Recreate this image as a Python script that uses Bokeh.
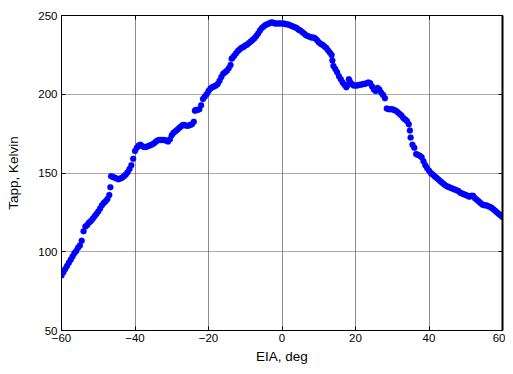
from bokeh.plotting import figure
from bokeh.models import LinearAxis, Range1d, SingleIntervalTicker, ColumnDataSource, CustomJSTickFormatter
from bokeh.embed import file_html
from bokeh.resources import INLINE

# EIA angle (deg) and apparent temperature (K)
eia = [-60, -59.5, -59, -58.5, -58, -57.5, -57, -56.5, -56, -55.5, -55, -54.5, -54, -53.5, -53,
       -52.5, -52, -51.5, -51, -50.5, -50, -49.5, -49, -48.5, -48, -47.5, -47, -46.7, -46.5, -46,
       -45.5, -45, -44.5, -44, -43.5, -43, -42.5, -42, -41.5, -41, -40.5, -40, -39.5, -39, -38.5,
       -38, -37.5, -37, -36.5, -36, -35.5, -35, -34.5, -34, -33.5, -33, -32.5, -32, -31.5, -31,
       -30.5, -30, -29.5, -29, -28.5, -28, -27.5, -27, -26.5, -26, -25.5, -25, -24.5, -24, -23.7,
       -23.5, -23, -22.5, -22, -21.5, -21, -20.5, -20, -19.5, -19, -18.5, -18, -17.5, -17, -16.5,
       -16, -15.5, -15, -14.5, -14, -13.7, -13.5, -13, -12.5, -12, -11.5, -11, -10.5, -10, -9.5,
       -9, -8.5, -8, -7.5, -7, -6.5, -6, -5.5, -5, -4.5, -4, -3.5, -3, -2.5, -2, -1.5, -1, -0.5,
       0, 0.5, 1, 1.5, 2, 2.5, 3, 3.5, 4, 4.5, 5, 5.5, 6, 6.5, 7, 7.5, 8, 8.5, 9, 9.5, 10, 10.5,
       11, 11.5, 12, 12.5, 13, 13.5, 13.7, 14, 14.5, 15, 15.5, 16, 16.5, 17, 17.5, 18, 18.2, 18.5,
       19, 19.5, 20, 20.5, 21, 21.5, 22, 22.5, 23, 23.5, 24, 24.5, 25, 25.5, 26, 26.5, 27, 27.5,
       28, 28.5, 29, 29.5, 30, 30.5, 31, 31.5, 32, 32.5, 33, 33.5, 34, 34.5, 34.8, 35, 35.5, 36,
       36.5, 37, 37.5, 38, 38.5, 39, 39.5, 40, 40.5, 41, 41.5, 42, 42.5, 43, 43.5, 44, 44.5, 45,
       45.5, 46, 46.5, 47, 47.5, 48, 48.5, 49, 49.5, 50, 50.5, 51, 51.5, 52, 52.5, 53, 53.5, 54,
       54.5, 55, 55.5, 56, 56.5, 57, 57.5, 58, 58.5, 59, 59.5, 60]
tapp = [85, 87, 89, 91, 93, 95, 97, 99, 100.5, 102.5, 104, 107, 113, 116, 117,
        118.5, 119.5, 121, 122.5, 124, 125.5, 127.5, 129.5, 131, 132, 133.5, 136, 141, 148, 147.5,
        147, 146.5, 146, 146.5, 147, 148, 149, 150.5, 152.5, 155, 159, 164, 166, 167.5, 168,
        167, 166.5, 166.5, 167, 167.5, 168, 168.5, 169.5, 170.5, 171, 171, 171, 171, 170.5, 170,
        171.5, 174, 175.5, 176.5, 177.5, 178.5, 179.5, 180.5, 180.5, 180, 180, 180.5, 181, 182.5, 189.5,
        190, 190, 190.5, 193, 197, 198.5, 200, 202, 203.5, 204.5, 205, 205.5, 206.5, 208.5, 211,
        213, 214, 215, 216.5, 218.5, 222.5, 223, 224.5, 226, 227.5, 228.5, 229.5, 230, 231, 231.5,
        232.5, 233.5, 234.5, 235.5, 237, 238.5, 240.5, 242, 243, 244, 244.5, 245, 245.5, 245.5, 245, 245, 245, 245,
        245, 245, 244.5, 244.5, 244, 243.5, 243, 242.5, 242, 241, 240.5, 239.5, 238.5, 237.5, 237, 236.5, 236, 236, 235.5, 234.5, 233, 232,
        231.5, 230.5, 229.5, 228, 226.5, 225, 221.5, 218, 216, 214, 211.5, 209.5, 207.5, 206, 204.5, 206, 209.5, 208,
        206.5, 205.5, 205.5, 205.5, 206, 206, 206.5, 206.5, 207, 207.5, 207, 205, 203, 202, 204, 203, 201, 199.5,
        197.5, 191, 190.5, 190.5, 190.5, 190, 189.5, 188.5, 187.5, 186.5, 185, 184, 183, 181, 177, 172.5, 168, 166,
        162, 161.5, 161, 160, 157.5, 155, 153, 151.5, 150, 149, 148, 147, 146, 145, 144, 143, 142, 141.5,
        141, 140.5, 140, 139.5, 139, 138.5, 137.5, 137, 136.5, 136, 135.5, 135, 135.5, 135.5, 134, 133, 132, 131,
        130, 129.5, 129.5, 129, 128.5, 128, 127, 126, 125, 124, 123, 122]

x_ticks_step = 20
y_ticks_step = 50

FONT = "Liberation Sans"

p = figure(width=505, height=366, output_backend="svg", toolbar_location=None,
           x_range=Range1d(-60, 60), y_range=Range1d(50, 250),
           min_border_left=61, min_border_right=3, min_border_top=15, min_border_bottom=35)
p.background_fill_color = "white"
p.border_fill_color = "white"
p.outline_line_color = "black"
p.outline_line_width = 1

src = ColumnDataSource(dict(x=eia, y=tapp))
p.scatter("x", "y", source=src, size=6, fill_color="#0000FF", line_color="#0000FF", line_width=0.3)

for ax in (p.xaxis[0], p.yaxis[0]):
    ax.major_tick_in = 4
    ax.major_tick_out = 0
    ax.minor_tick_in = 0
    ax.minor_tick_out = 0
    ax.axis_line_color = "black"
    ax.major_tick_line_color = "black"
    ax.major_label_text_font = FONT
    ax.major_label_text_font_size = "11.5px"
    ax.major_label_text_color = "black"
    ax.axis_label_text_font = FONT
    ax.axis_label_text_font_size = "13.5px"
    ax.axis_label_text_font_style = "normal"
    ax.axis_label_text_color = "black"

p.xaxis[0].ticker = SingleIntervalTicker(interval=x_ticks_step)
p.yaxis[0].ticker = SingleIntervalTicker(interval=y_ticks_step)
p.xaxis[0].axis_label = "EIA, deg"
p.yaxis[0].axis_label = "Tapp, Kelvin"
p.xaxis[0].major_label_standoff = 3
p.xaxis[0].axis_label_standoff = 4
p.yaxis[0].major_label_standoff = 4
p.yaxis[0].axis_label_standoff = 14

blank = CustomJSTickFormatter(code="return '';")
# mirrored ticks on top and right
top = LinearAxis(ticker=SingleIntervalTicker(interval=x_ticks_step), formatter=blank,
                 major_tick_in=4, major_tick_out=0, minor_tick_in=0, minor_tick_out=0,
                 axis_line_color="black", major_label_standoff=0)
right = LinearAxis(ticker=SingleIntervalTicker(interval=y_ticks_step), formatter=blank,
                   major_tick_in=4, major_tick_out=0, minor_tick_in=0, minor_tick_out=0,
                   axis_line_color="black", axis_line_width=2, major_label_standoff=0)
p.add_layout(top, "above")
p.add_layout(right, "right")

p.xgrid[0].ticker = SingleIntervalTicker(interval=x_ticks_step)
p.ygrid[0].ticker = SingleIntervalTicker(interval=y_ticks_step)
p.xgrid.grid_line_color = "#8c8c8c"
p.xgrid.grid_line_width = 1
p.ygrid.grid_line_color = "#555555"
p.ygrid.grid_line_dash = "1 1"
p.ygrid.grid_line_width = 1

open("out.html", "w").write(file_html(p, INLINE))
